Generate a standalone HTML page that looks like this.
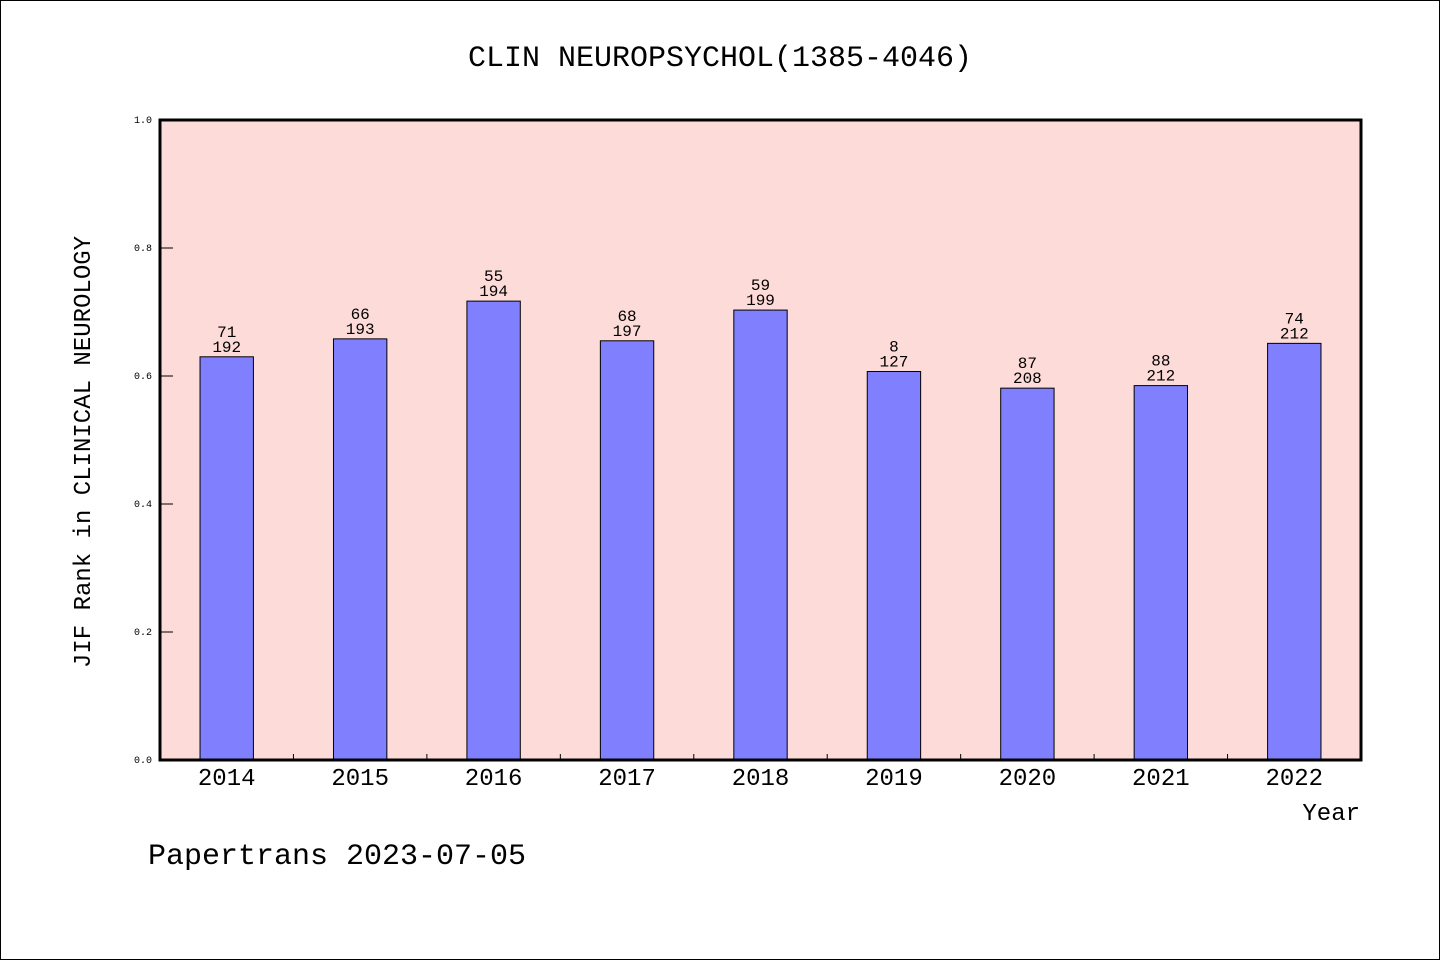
<!DOCTYPE html>
<html><head><meta charset="utf-8"><style>
html,body{margin:0;padding:0;background:#fff}
svg{display:block}
text{font-family:"Liberation Mono","DejaVu Sans Mono",monospace;fill:#000}
</style></head><body>
<svg id="chart" width="1440" height="960">
<rect x="0.5" y="0.5" width="1439" height="959" fill="#fff" stroke="#000"/>
<text x="720" y="66" font-size="30" text-anchor="middle">CLIN NEUROPSYCHOL(1385-4046)</text>
<rect x="160" y="120" width="1201" height="640" fill="#fddbd8"/>
<g id="bars"></g>
<g id="yticks"></g>
<g id="xticks"></g>
<rect x="160" y="120" width="1201" height="640" fill="none" stroke="#000" stroke-width="3"/>
<text transform="translate(90,452) rotate(-90)" font-size="24" text-anchor="middle">JIF Rank in CLINICAL NEUROLOGY</text>
<text x="1360" y="820" font-size="24" text-anchor="end">Year</text>
<text x="148" y="864" font-size="30">Papertrans 2023-07-05</text>
</svg>
<script>
const years=["2014","2015","2016","2017","2018","2019","2020","2021","2022"];
const values=[0.630,0.658,0.717,0.655,0.703,0.607,0.581,0.585,0.651];
const ranks=[71,66,55,68,59,8,87,88,74];
const totals=[192,193,194,197,199,127,208,212,212];
const yTicks=[0,0.2,0.4,0.6,0.8,1.0];
const NS="http://www.w3.org/2000/svg";
const X0=160,W=1201,Y0=760,H=640;
const slot=W/years.length;
const yS=v=>Y0-v*H;
function mk(t,a,p){const e=document.createElementNS(NS,t);for(const k in a)e.setAttribute(k,a[k]);p.appendChild(e);return e;}
const bars=document.getElementById('bars'),yt=document.getElementById('yticks'),xt=document.getElementById('xticks');
years.forEach((y,i)=>{
 const v=values[i];
 const cx=X0+slot*(i+0.5),bw=slot*0.4;
 const r=mk('rect',{x:cx-bw/2,y:yS(v),width:bw,height:Y0-yS(v),fill:'#8080ff',stroke:'#000','stroke-width':1},bars);
 
 
 const t1=mk('text',{x:cx,y:yS(v)-20,'font-size':16,'text-anchor':'middle'},bars);t1.textContent=ranks[i];
 
 
 const t2=mk('text',{x:cx,y:yS(v)-5,'font-size':16,'text-anchor':'middle'},bars);t2.textContent=totals[i];
 
 
 const xl=mk('text',{x:cx,y:785,'font-size':24,'text-anchor':'middle'},xt);xl.textContent=y;
 
 
 if(i>0){const l=mk('line',{x1:X0+slot*i,x2:X0+slot*i,y1:Y0,y2:Y0-6,stroke:'#000','stroke-width':1},xt);
 
 }
});
yTicks.forEach(v=>{
 const l=mk('line',{x1:X0,x2:X0+13,y1:yS(v),y2:yS(v),stroke:'#000','stroke-width':1},yt);
 
 
 const t=mk('text',{x:152,y:yS(v)+3,'font-size':10,'text-anchor':'end'},yt);t.textContent=v.toFixed(1);
 
 
});
</script>
</body></html>
